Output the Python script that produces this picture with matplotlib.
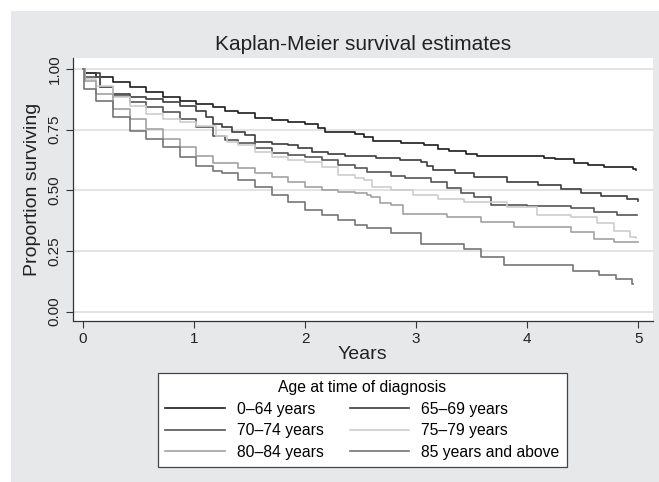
import matplotlib
matplotlib.use("Agg")
import matplotlib.pyplot as plt
from matplotlib.patches import Rectangle

plt.rcParams['font.family'] = ['Liberation Sans', 'DejaVu Sans']

# ---- data ----
groups = ["0\u201364 years", "65\u201369 years", "70\u201374 years",
          "75\u201379 years", "80\u201384 years", "85 years and above"]

t_0_64 = [0, 0.02, 0.12, 0.27, 0.42, 0.57, 0.72, 0.87, 1.02, 1.17, 1.28, 1.40, 1.55,
          1.70, 1.85, 2.0, 2.12, 2.18, 2.3, 2.45, 2.53, 2.61, 2.86, 3.07, 3.2, 3.3,
          3.45, 3.55, 4.15, 4.25, 4.42, 4.55, 4.69, 4.95, 4.98]
s_0_64 = [1.0, 0.982, 0.966, 0.945, 0.924, 0.904, 0.886, 0.869, 0.856, 0.842, 0.828,
          0.817, 0.799, 0.789, 0.783, 0.772, 0.758, 0.741, 0.739, 0.731, 0.721, 0.705,
          0.695, 0.688, 0.672, 0.662, 0.65, 0.642, 0.635, 0.628, 0.614, 0.605, 0.595,
          0.588, 0.585]

t_65_69 = [0, 0.02, 0.15, 0.27, 0.42, 0.57, 0.72, 0.87, 1.02, 1.11, 1.17, 1.25, 1.34,
           1.46, 1.55, 1.70, 1.85, 1.94, 2.06, 2.21, 2.36, 2.64, 2.85, 3.04, 3.1, 3.15,
           3.35, 3.52, 3.82, 4.1, 4.3, 4.48, 4.66, 4.9, 5.0]
s_65_69 = [1.0, 0.982, 0.924, 0.897, 0.883, 0.876, 0.863, 0.849, 0.828, 0.801, 0.773,
           0.762, 0.741, 0.728, 0.70, 0.689, 0.687, 0.673, 0.659, 0.648, 0.641, 0.635,
           0.625, 0.615, 0.60, 0.584, 0.57, 0.556, 0.535, 0.52, 0.504, 0.487, 0.476,
           0.463, 0.455]

t_70_74 = [0, 0.02, 0.15, 0.27, 0.42, 0.57, 0.72, 0.87, 1.02, 1.17, 1.28, 1.40, 1.55,
           1.70, 1.85, 2.0, 2.15, 2.3, 2.45, 2.56, 2.77, 2.9, 3.13, 3.28, 3.4, 3.52,
           3.67, 4.0, 4.39, 4.6, 4.81, 4.99]
s_70_74 = [1.0, 0.966, 0.924, 0.89, 0.863, 0.842, 0.821, 0.794, 0.759, 0.725, 0.707,
           0.693, 0.673, 0.652, 0.645, 0.638, 0.625, 0.604, 0.59, 0.577, 0.559, 0.552,
           0.535, 0.508, 0.49, 0.473, 0.44, 0.435, 0.425, 0.41, 0.397, 0.397]

t_75_79 = [0, 0.02, 0.12, 0.27, 0.42, 0.57, 0.72, 0.87, 1.02, 1.2, 1.3, 1.40, 1.55,
           1.70, 1.85, 2.0, 2.15, 2.3, 2.45, 2.53, 2.6, 2.77, 2.97, 3.2, 3.43, 3.82,
           4.09, 4.39, 4.63, 4.78, 4.93, 4.98]
s_75_79 = [1.0, 0.959, 0.931, 0.883, 0.849, 0.814, 0.794, 0.78, 0.766, 0.725, 0.70,
           0.687, 0.659, 0.638, 0.625, 0.618, 0.597, 0.563, 0.549, 0.542, 0.515, 0.50,
           0.48, 0.465, 0.452, 0.432, 0.397, 0.39, 0.363, 0.33, 0.307, 0.305]

t_80_84 = [0, 0.02, 0.12, 0.27, 0.42, 0.57, 0.72, 0.87, 1.02, 1.17, 1.40, 1.55, 1.70,
           1.85, 2.0, 2.15, 2.3, 2.45, 2.56, 2.59, 2.67, 2.77, 2.88, 3.28, 3.58, 3.88,
           4.39, 4.6, 4.78, 5.0]
s_80_84 = [1.0, 0.952, 0.897, 0.835, 0.794, 0.753, 0.711, 0.677, 0.643, 0.611, 0.59,
           0.57, 0.556, 0.535, 0.515, 0.501, 0.494, 0.487, 0.48, 0.473, 0.446, 0.44,
           0.404, 0.39, 0.369, 0.349, 0.328, 0.30, 0.286, 0.285]

t_85 = [0, 0.01, 0.12, 0.27, 0.42, 0.57, 0.72, 0.87, 1.02, 1.17, 1.25, 1.40, 1.55,
        1.70, 1.85, 2.0, 2.15, 2.3, 2.45, 2.56, 2.77, 3.04, 3.43, 3.58, 3.79, 4.41,
        4.65, 4.8, 4.94, 4.95]
s_85 = [1.0, 0.917, 0.869, 0.801, 0.746, 0.711, 0.677, 0.636, 0.601, 0.58, 0.57, 0.542,
        0.515, 0.48, 0.453, 0.419, 0.398, 0.378, 0.357, 0.343, 0.322, 0.28, 0.259,
        0.224, 0.19, 0.169, 0.152, 0.134, 0.115, 0.115]

times = [t_0_64, t_65_69, t_70_74, t_75_79, t_80_84, t_85]
survs = [s_0_64, s_65_69, s_70_74, s_75_79, s_80_84, s_85]
colors = ["#1c1c1c", "#3c3c3c", "#555555", "#cdcdcd", "#a2a2a2", "#757575"]

x_ticks = [0, 1, 2, 3, 4, 5]
y_ticks = [0.0, 0.25, 0.5, 0.75, 1.0]
y_ticklabels = ["0.00", "0.25", "0.50", "0.75", "1.00"]

# ---- figure ----
W, H = 659, 482
fig = plt.figure(figsize=(W / 100, H / 100), dpi=100)
fig.patch.set_facecolor("white")
fig.patches.append(Rectangle((11 / W, 0), 1 - 11 / W, 1 - 11 / H,
                             transform=fig.transFigure, facecolor="#e7e8ea",
                             edgecolor="none", zorder=0))

ax = fig.add_axes([72.7 / W, 1 - 320.5 / H, 580 / W, 262.2 / H])
ax.set_facecolor("white")
ax.set_zorder(1)

lines = []
for t, s, c, g in zip(times, survs, colors, groups):
    ln, = ax.plot(t, s, drawstyle="steps-post", color=c, lw=1.2, label=g, zorder=3)
    lines.append(ln)

ax.set_xlim(-0.093, 5.13)
ax.set_ylim(-0.037, 1.044)
ax.set_xticks(x_ticks)
ax.set_yticks(y_ticks)
ax.set_yticklabels(y_ticklabels, rotation=90, va="center")
ax.grid(axis="y", color="#e3e3e3", lw=1.4, zorder=1)
ax.grid(axis="x", visible=False)
for side in ["top", "right"]:
    ax.spines[side].set_visible(False)
for side in ["left", "bottom"]:
    ax.spines[side].set_color("#333333")
    ax.spines[side].set_linewidth(0.9)
ax.tick_params(axis="both", direction="out", length=5, width=0.8, color="#333333",
               labelsize=11, labelcolor="#222222", pad=3)

ax.set_title("Kaplan-Meier survival estimates", fontsize=15, color="#222222", pad=6)
ax.set_xlabel("Years", fontsize=14, color="#222222", labelpad=0)
ax.set_ylabel("Proportion surviving", fontsize=14, color="#222222", labelpad=5)

# legend filled row by row (two columns)
order = [0, 2, 4, 1, 3, 5]
leg = fig.legend([lines[i] for i in order], [groups[i] for i in order],
                 loc="center", bbox_to_anchor=(362.5 / W, 1 - 420 / H), ncol=2,
                 title="Age at time of diagnosis", fontsize=11.3, title_fontsize=11.3,
                 frameon=True, fancybox=False, edgecolor="#444444", facecolor="white",
                 framealpha=1, handlelength=3.8, handletextpad=0.76, columnspacing=1.65,
                 borderpad=0.45, labelspacing=0.42)
leg.get_frame().set_linewidth(0.9)
for line in leg.get_lines():
    line.set_linewidth(1.2)

fig.savefig("out.png", dpi=100)
